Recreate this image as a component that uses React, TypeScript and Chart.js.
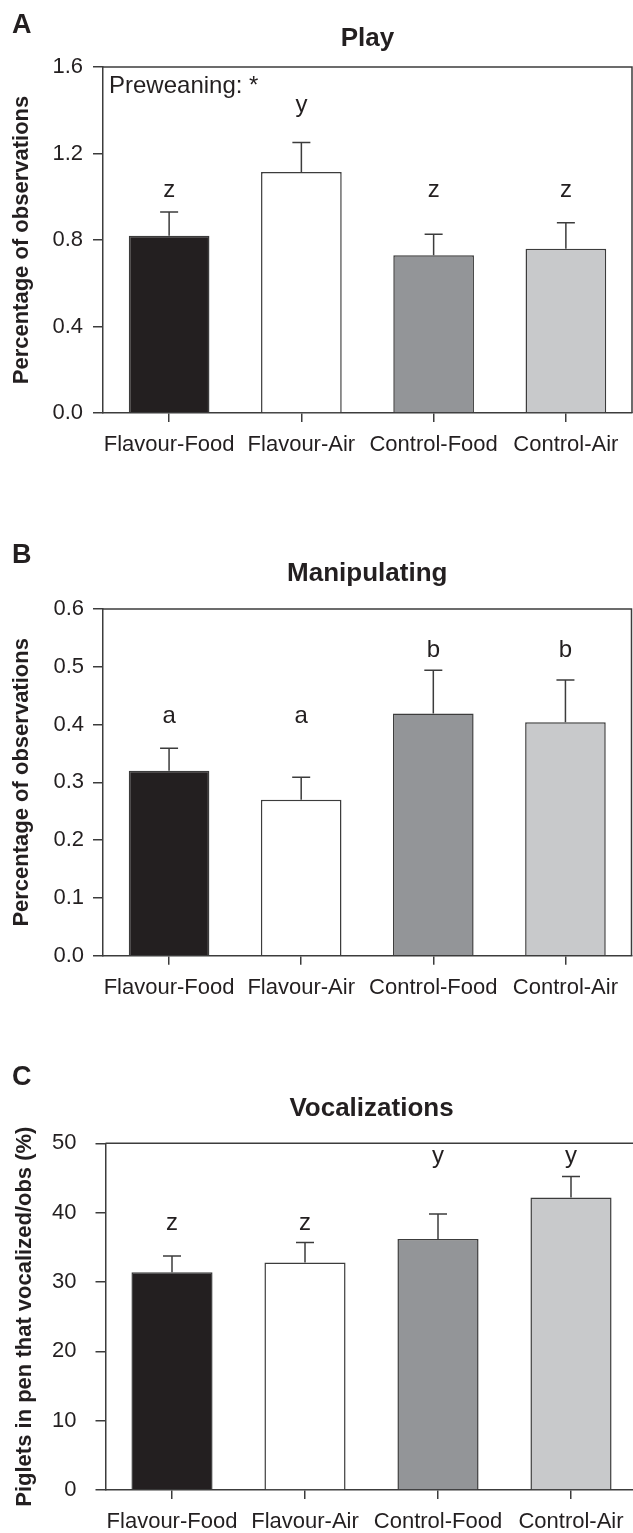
import React, { useEffect, useRef } from 'react';
import { Chart, registerables } from 'chart.js';

Chart.register(...registerables);

// ---------- data ----------
const categories = ['Flavour-Food', 'Flavour-Air', 'Control-Food', 'Control-Air'];
const barColors = ['#231f20', '#ffffff', '#939598', '#c8c9cb'];

const playMeans = [0.82, 1.115, 0.73, 0.76];
const playSE = [0.11, 0.136, 0.097, 0.12];
const playLetters = ['z', 'y', 'z', 'z'];
const playLetterLevels = [1.0, 1.39, 1.0, 1.0];
const playNote = 'Preweaning: *';
const playNoteLevel = 1.51;

const manipMeans = [0.32, 0.27, 0.419, 0.404];
const manipSE = [0.039, 0.039, 0.075, 0.073];
const manipLetters = ['a', 'a', 'b', 'b'];
const manipLetterLevels = [0.402, 0.402, 0.5175, 0.5175];

const vocalMeans = [31.4, 32.8, 36.2, 42.2];
const vocalSE = [2.35, 2.9, 3.6, 3.0];
const vocalLetters = ['z', 'z', 'y', 'y'];
const vocalLetterLevels = [37.5, 37.5, 47.2, 47.2];

// ---------- style ----------
const FONT = "'Liberation Sans', Arial, Helvetica, sans-serif";
const TEXT = '#231f20';
const LINE = '#3c3c3c';

type PanelCfg = {
  panelLetter: string;
  letterBaseline: number;
  title: string;
  titlePad: { top: number; bottom: number };
  yTitle: string;
  yTitlePad: number;
  means: number[];
  se: number[];
  letters: string[];
  letterLevels: number[];
  note?: string;
  noteLevel?: number;
  yMax: number;
  yStep: number;
  decimals: number;
  top: number;
  width: number;
  height: number;
  yWidth: number;
  xHeight: number;
  rightPad: number;
  yTickPad: number;
};

const panels: PanelCfg[] = [
  {
    panelLetter: 'A', letterBaseline: 33, title: 'Play', titlePad: { top: 23.4, bottom: 12.4 },
    yTitle: 'Percentage of observations', yTitlePad: 8.8,
    means: playMeans, se: playSE, letters: playLetters, letterLevels: playLetterLevels,
    note: playNote, noteLevel: playNoteLevel,
    yMax: 1.6, yStep: 0.4, decimals: 1,
    top: 0, width: 633, height: 530, yWidth: 103, xHeight: 117, rightPad: 1, yTickPad: 10,
  },
  {
    panelLetter: 'B', letterBaseline: 33, title: 'Manipulating', titlePad: { top: 28.4, bottom: 19.4 },
    yTitle: 'Percentage of observations', yTitlePad: 8.8,
    means: manipMeans, se: manipSE, letters: manipLetters, letterLevels: manipLetterLevels,
    yMax: 0.6, yStep: 0.1, decimals: 1,
    top: 530, width: 633, height: 500, yWidth: 103, xHeight: 74.3, rightPad: 1.5, yTickPad: 9,
  },
  {
    panelLetter: 'C', letterBaseline: 55, title: 'Vocalizations', titlePad: { top: 62.9, bottom: 19.2 },
    yTitle: 'Piglets in pen that vocalized/obs (%)', yTitlePad: 11.8,
    means: vocalMeans, se: vocalSE, letters: vocalLetters, letterLevels: vocalLetterLevels,
    yMax: 50, yStep: 10, decimals: 0,
    top: 1030, width: 645, height: 503, yWidth: 105.5, xHeight: 43, rightPad: 7.5, yTickPad: 19,
  },
];

function Panel({ cfg }: { cfg: PanelCfg }) {
  const ref = useRef<HTMLCanvasElement>(null);

  useEffect(() => {
    const canvas = ref.current;
    if (!canvas) return;

    const decorations = {
      id: 'decorations',
      afterDatasetsDraw(chart: any) {
        const { ctx, chartArea } = chart;
        const y = chart.scales.y;
        const meta = chart.getDatasetMeta(0);
        ctx.save();
        // frame: top and right
        ctx.strokeStyle = LINE;
        ctx.lineWidth = 1.5;
        ctx.beginPath();
        ctx.moveTo(chartArea.left, chartArea.top);
        ctx.lineTo(chartArea.right, chartArea.top);
        ctx.lineTo(chartArea.right, chartArea.bottom);
        ctx.stroke();
        // error bars
        cfg.means.forEach((m, i) => {
          const bar = meta.data[i];
          if (!bar) return;
          const x = bar.x;
          const y0 = y.getPixelForValue(m);
          const y1 = y.getPixelForValue(m + cfg.se[i]);
          ctx.beginPath();
          ctx.moveTo(x, y0);
          ctx.lineTo(x, y1);
          ctx.moveTo(x - 9, y1);
          ctx.lineTo(x + 9, y1);
          ctx.stroke();
        });
        // significance letters
        ctx.fillStyle = TEXT;
        ctx.font = `24px ${FONT}`;
        ctx.textAlign = 'center';
        ctx.textBaseline = 'alphabetic';
        cfg.letters.forEach((l, i) => {
          const bar = meta.data[i];
          if (!bar) return;
          ctx.fillText(l, bar.x, y.getPixelForValue(cfg.letterLevels[i]));
        });
        // note
        if (cfg.note && cfg.noteLevel !== undefined) {
          ctx.font = `24px ${FONT}`;
          ctx.textAlign = 'left';
          ctx.textBaseline = 'middle';
          ctx.fillText(cfg.note, chartArea.left + 6, y.getPixelForValue(cfg.noteLevel));
        }
        // panel letter
        ctx.font = `bold 27px ${FONT}`;
        ctx.textAlign = 'left';
        ctx.textBaseline = 'alphabetic';
        ctx.fillText(cfg.panelLetter, 12, cfg.letterBaseline);
        ctx.restore();
      },
    };

    const chart = new Chart(canvas, {
      type: 'bar',
      data: {
        labels: categories,
        datasets: [
          {
            data: cfg.means,
            backgroundColor: barColors,
            borderColor: LINE,
            borderWidth: 1.5,
            barPercentage: 0.61,
            categoryPercentage: 1,
          },
        ],
      },
      options: {
        animation: false,
        responsive: false,
        devicePixelRatio: 1,
        layout: { padding: { left: 0, right: cfg.rightPad, top: 0, bottom: 0 } },
        plugins: {
          legend: { display: false },
          tooltip: { enabled: false },
          title: {
            display: true,
            text: cfg.title,
            fullSize: false,
            color: TEXT,
            font: { family: FONT, size: 26, weight: 'bold' },
            padding: cfg.titlePad,
          },
        },
        scales: {
          x: {
            ticks: { color: TEXT, font: { family: FONT, size: 22 }, padding: 10, maxRotation: 0, autoSkip: false },
            grid: { drawOnChartArea: false, drawTicks: true, tickLength: 9, color: LINE, lineWidth: 1.5, offset: false },
            border: { display: true, color: LINE, width: 1.5 },
            afterFit: (s: any) => { s.height = cfg.xHeight; },
          },
          y: {
            min: 0,
            max: cfg.yMax,
            ticks: {
              stepSize: cfg.yStep,
              color: TEXT,
              font: { family: FONT, size: 22 },
              padding: cfg.yTickPad,
              callback: (v: any) => Number(v).toFixed(cfg.decimals),
            },
            grid: { drawOnChartArea: false, drawTicks: true, tickLength: 10, color: LINE, lineWidth: 1.5 },
            border: { display: true, color: LINE, width: 1.5 },
            title: {
              display: true,
              text: cfg.yTitle,
              color: TEXT,
              font: { family: FONT, size: 22, weight: 'bold' },
              padding: { top: cfg.yTitlePad, bottom: 0 },
            },
            afterFit: (s: any) => { s.width = cfg.yWidth; },
          },
        },
      },
      plugins: [decorations],
    } as any);

    return () => chart.destroy();
  }, [cfg]);

  return (
    <canvas
      ref={ref}
      width={cfg.width}
      height={cfg.height}
      style={{ position: 'absolute', left: 0, top: cfg.top, width: cfg.width, height: cfg.height }}
    />
  );
}

export default function App() {
  return (
    <div
      style={{
        position: 'absolute',
        left: 0,
        top: 0,
        width: 633,
        height: 1533,
        overflow: 'hidden',
        background: '#ffffff',
      }}
    >
      {panels.map((p) => (
        <Panel key={p.panelLetter} cfg={p} />
      ))}
    </div>
  );
}
